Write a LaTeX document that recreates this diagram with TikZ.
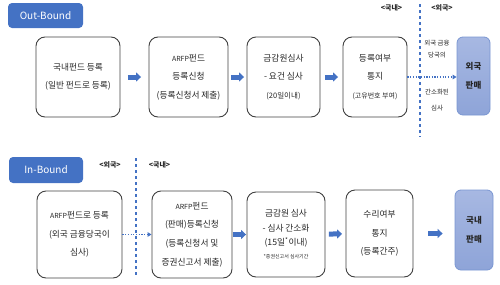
\documentclass[tikz,border=0pt]{standalone}
\usepackage{fontspec}
\setmainfont{Noto Sans CJK KR}
\usetikzlibrary{arrows.meta,positioning}
\definecolor{boundblue}{HTML}{4472C4}
\definecolor{saletop}{HTML}{A7B8E2}
\definecolor{salebot}{HTML}{8EA4D8}
\definecolor{saleedge}{HTML}{7A96D2}
\newcommand{\subtxt}[1]{{\fontsize{7}{18.5}\selectfont #1}}
\tikzset{
  procbox/.style={
    draw=black!75,
    line width=0.9pt,
    rounded corners=9pt,
    align=center,
    text=black!85,
    inner sep=1pt,
    font=\fontsize{8.7}{18.5}\selectfont
  },
  salebox/.style={
    draw=saleedge,
    line width=0.8pt,
    rounded corners=6pt,
    top color=saletop,
    bottom color=salebot,
    align=center,
    text=black!85,
    font=\fontsize{8.5}{19}\selectfont\bfseries
  },
  boundtag/.style={
    fill=boundblue,
    rounded corners=4pt,
    text=white,
    minimum width=75pt,
    minimum height=25pt,
    font=\fontsize{10}{12}\selectfont
  },
  sidetag/.style={font=\fontsize{6.5}{12}\selectfont, text=black!85, align=center},
  zonetag/.style={font=\fontsize{7}{8}\selectfont\bfseries, text=black!85},
  blockarr/.style={draw=boundblue, line width=5pt, -{Triangle[length=5pt,width=9pt]}},
  dotarr/.style={draw=boundblue, line width=1.2pt, dash pattern=on 1.2pt off 1.5pt,
    -{Triangle[length=4pt,width=4.5pt]}},
  fenceline/.style={draw=boundblue, line width=2.8pt, dash pattern=on 2.8pt off 3.2pt}
}

\begin{document}
\begin{tikzpicture}[x=1pt,y=-1pt]
\useasboundingbox (0,0) rectangle (500,284);

% Out-Bound
\node[boundtag] (outtag) at (45.5,15.5) {Out-Bound};

\node[procbox, minimum width=84pt, minimum height=80pt] (ob1) at (78,77)
  {국내펀드 등록\\(일반 펀드로 등록)};
\node[procbox, minimum width=79pt, minimum height=80pt] (ob2) at (188.5,77)
  {\subtxt{ARFP}펀드\\등록신청\\(등록신청서 제출)};
\node[procbox, minimum width=73pt, minimum height=80pt] (ob3) at (283.5,77)
  {금감원심사\\- 요건 심사\\{\fontsize{7.5}{18.5}\selectfont (20일이내)}};
\node[procbox, minimum width=64pt, minimum height=80pt] (ob4) at (375,77)
  {등록여부\\통지\\\subtxt{(고유번호 부여)}};
\node[salebox, minimum width=33pt, minimum height=78pt] (osale) at (473.5,76)
  {외국\\판매};

\draw[blockarr, shorten <=7.5pt, shorten >=7.5pt] (ob1) -- (ob2);
\draw[blockarr, shorten <=2.5pt, shorten >=2.5pt] (ob2) -- (ob3);
\draw[blockarr, shorten <=4.5pt, shorten >=4.5pt] (ob3) -- (ob4);

% domestic / foreign border
\coordinate (otop) at (420,4);
\coordinate (obot) at (420,137);
\draw[fenceline] (otop) -- (obot);
\node[zonetag] (odom) at (391.5,8) {<국내>};
\node[zonetag] (ofor) at (442,8) {<외국>};

\draw[dotarr] (ob4.east) -- (ob4.east -| osale.west);
\node[sidetag] (oreview1) at (437,49) {외국 금융\\당국의};
\node[sidetag, font=\fontsize{6.5}{16}\selectfont] (oreview2) at (437,100) {간소화된\\심사};

% In-Bound
\node[boundtag, minimum width=74pt, minimum height=26pt] (intag) at (46,170) {In-Bound};

\node[procbox, minimum width=85pt, minimum height=87pt] (ib1) at (79.5,234.5)
  {\subtxt{ARFP}펀드로 등록\\(외국 금융당국이\\심사)};
\node[procbox, minimum width=80pt, minimum height=87pt] (ib2) at (192,234.5)
  {\subtxt{ARFP}펀드\\(판매)등록신청\\(등록신청서 및\\증권신고서 제출)};
\node[procbox, minimum width=78pt, minimum height=85pt,
  font=\fontsize{8.7}{15}\selectfont] (ib3) at (286,234.5)
  {금감원 심사\\- 심사 간소화\\[-1pt](15일\textsuperscript{*}이내)\\[-2pt]{\fontsize{5}{15}\selectfont *증권신고서 심사기간}};
\node[procbox, minimum width=67pt, minimum height=87pt] (ib4) at (379.5,233.5)
  {수리여부\\통지\\(등록간주)};
\node[salebox, minimum width=38pt, minimum height=80pt] (isale) at (474,230)
  {국내\\판매};

\draw[blockarr, shorten <=0.5pt, shorten >=0.5pt] (ib2) -- (ib3);
\draw[blockarr, shorten <=3.5pt, shorten >=3.5pt] (ib3) -- (ib4);
\draw[blockarr, shorten <=15pt, shorten >=12pt] (ib4.east) -- (ib4.east -| isale.west);

% foreign / domestic border
\coordinate (itop) at (136,158);
\coordinate (ibot) at (136,277);
\draw[fenceline] (itop) -- (ibot);
\node[zonetag] (ifor) at (110,165) {<외국>};
\node[zonetag] (idom) at (159.5,165) {<국내>};

\draw[dotarr] (ib1) -- (ib2);

\end{tikzpicture}
\end{document}
